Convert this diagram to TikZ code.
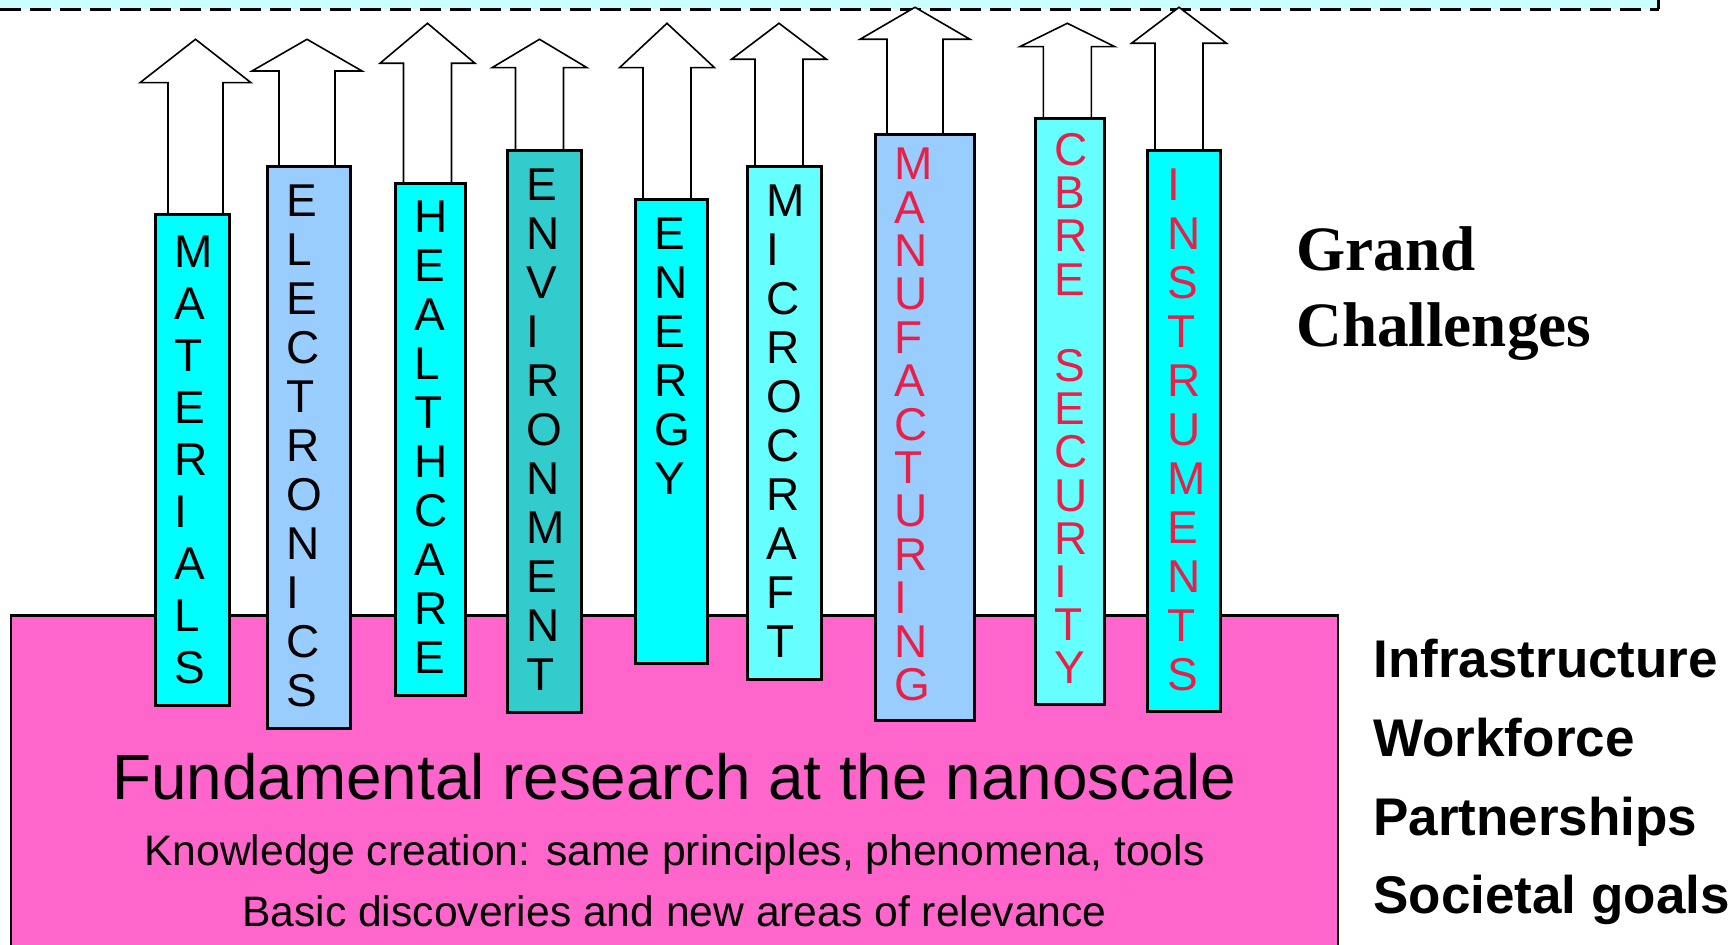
\documentclass[tikz,border=0pt]{standalone}
\usepackage{fontspec}
\setmainfont{Liberation Sans}
\newfontfamily\timesfont{Liberation Serif}
\usepackage{xcolor}
\usepackage{tikz}
\usetikzlibrary{backgrounds}

\definecolor{topcyan}{HTML}{CCFFFF}
\definecolor{basepink}{HTML}{FF66CC}
\definecolor{barcyan}{HTML}{00FFFF}
\definecolor{barblue}{HTML}{99CCFF}
\definecolor{barteal}{HTML}{33CCCC}
\definecolor{barpale}{HTML}{66FFFF}
\definecolor{letterred}{RGB}{232,32,72}

\tikzset{
  bar/.style={draw,line width=1.5pt,anchor=north west,inner sep=0pt,outer sep=0pt},
  letters/.style={anchor=north west,inner sep=0pt,align=left,font=\fontsize{23}{24.5}\selectfont},
  arrowbody/.style={draw,fill=white,line width=0.8pt,line join=miter},
  sidelabel/.style={anchor=base west,inner sep=0pt,font=\bfseries\fontsize{26.5}{30}\selectfont},
  basetext/.style={anchor=base,inner sep=0pt}
}

% #1 bar, #2 centre x, #3 shaft half width, #4 head half width, #5 head base y, #6 tip y
\newcommand{\blockarrow}[6]{%
  \coordinate (#1-l) at ({#2-#3},#5);
  \coordinate (#1-r) at ({#2+#3},#5);
  \draw[arrowbody] (#1.north -| #1-l) -- (#1-l) -- ({#2-#4},#5) -- (#2,#6)
    -- ({#2+#4},#5) -- (#1-r) -- (#1.north -| #1-r);}

\begin{document}
\begin{tikzpicture}[x=0.5pt,y=-0.5pt]
\useasboundingbox (0,0) rectangle (1733,945);

% research base
\node[draw,fill=basepink,line width=1.25pt,anchor=north west,inner sep=0pt,outer sep=0pt,
  minimum width=663.5pt,minimum height=168pt] (base) at (11,615.5) {};
\node[basetext,font=\fontsize{31.9}{38}\selectfont] (fundamental) at (674.5,799) {Fundamental research at the nanoscale};
\node[basetext,font=\fontsize{21.3}{25}\selectfont] (knowledge) at (674.5,865) {Knowledge creation: same principles, phenomena, tools};
\node[basetext,font=\fontsize{21.3}{25}\selectfont] (basic) at (674.5,926.7) {Basic discoveries and new areas of relevance};

% bars
\node[bar,fill=barcyan,minimum width=37pt,minimum height=245pt] (materials) at (155,215) {};
\node[bar,fill=barblue,minimum width=41.5pt,minimum height=280.5pt] (electronics) at (267,167) {};
\node[bar,fill=barcyan,minimum width=35pt,minimum height=255.5pt] (healthcare) at (395,184) {};
\node[bar,fill=barteal,minimum width=37pt,minimum height=280.5pt] (environment) at (507,151) {};
\node[bar,fill=barcyan,minimum width=36pt,minimum height=231.75pt] (energy) at (635,199.5) {};
\node[bar,fill=barpale,minimum width=36.7pt,minimum height=256pt] (microcraft) at (747.6,167) {};
\node[bar,fill=barblue,minimum width=49.15pt,minimum height=292.5pt] (manufacturing) at (875.7,135) {};
\node[bar,fill=barpale,minimum width=34.8pt,minimum height=292.5pt] (cbre) at (1035,119) {};
\node[bar,fill=barcyan,minimum width=36.5pt,minimum height=280.25pt] (instruments) at (1147.7,151) {};

\node[letters,font=\fontsize{23}{26}\selectfont] (materials-txt) at ([shift={(19,20)}]materials.north west) {M\\A\\T\\E\\R\\I\\A\\L\\S};
\node[letters] (electronics-txt) at ([shift={(19,17)}]electronics.north west) {E\\L\\E\\C\\T\\R\\O\\N\\I\\C\\S};
\node[letters] (healthcare-txt) at ([shift={(19,16)}]healthcare.north west) {H\\E\\A\\L\\T\\H\\C\\A\\R\\E};
\node[letters] (environment-txt) at ([shift={(19,17)}]environment.north west) {E\\N\\V\\I\\R\\O\\N\\M\\E\\N\\T};
\node[letters] (energy-txt) at ([shift={(19,17.5)}]energy.north west) {E\\N\\E\\R\\G\\Y};
\node[letters] (microcraft-txt) at ([shift={(18,17)}]microcraft.north west) {M\\I\\C\\R\\O\\C\\R\\A\\F\\T};
\node[letters,text=letterred,font=\fontsize{23}{21.7}\selectfont] (manufacturing-txt) at ([shift={(18,12.7)}]manufacturing.north west) {M\\A\\N\\U\\F\\A\\C\\T\\U\\R\\I\\N\\G};
\node[letters,text=letterred,font=\fontsize{23}{21.6}\selectfont] (cbre-txt) at ([shift={(19,14)}]cbre.north west) {C\\B\\R\\E\\\mbox{}\\S\\E\\C\\U\\R\\I\\T\\Y};
\node[letters,text=letterred] (instruments-txt) at ([shift={(19,17)}]instruments.north west) {I\\N\\S\\T\\R\\U\\M\\E\\N\\T\\S};

% arrows up to the challenges
\begin{scope}[on background layer]
\fill[topcyan] (0,0) rectangle (1658.5,9.3);
\draw[line width=1.35pt,dash pattern=on 10.5pt off 4.5pt] (0,9.3) -- (1658.5,9.3);
\draw[line width=1.35pt] (1658.5,9.3) -- (1658.5,0);
\blockarrow{materials}{195.5}{27.5}{55.5}{82.7}{39.3}
\blockarrow{electronics}{307}{28}{55}{71}{39.3}
\blockarrow{healthcare}{427.5}{24}{47.5}{63.3}{23.3}
\blockarrow{environment}{539.5}{24}{47.5}{67.7}{39.3}
\blockarrow{energy}{667}{24}{47.5}{67.7}{23.3}
\blockarrow{microcraft}{779}{24}{47.5}{59.3}{23.3}
\blockarrow{manufacturing}{915}{28}{55}{39.3}{7.3}
\blockarrow{cbre}{1067.3}{24}{47.5}{46.7}{23.3}
\blockarrow{instruments}{1179}{24}{47.5}{43.3}{7.3}
\end{scope}

\node[anchor=base west,inner sep=0pt,align=left,font=\timesfont\bfseries\fontsize{31.6}{38}\selectfont] (grand) at (1296,347) {Grand\\Challenges};

\node[sidelabel] (infra) at (1373,677.3) {Infrastructure};
\node[sidelabel] (workforce) at (1373,756.7) {Workforce};
\node[sidelabel] (partners) at (1373,835) {Partnerships};
\node[sidelabel] (goals) at (1373,913) {Societal goals};
\end{tikzpicture}
\end{document}
